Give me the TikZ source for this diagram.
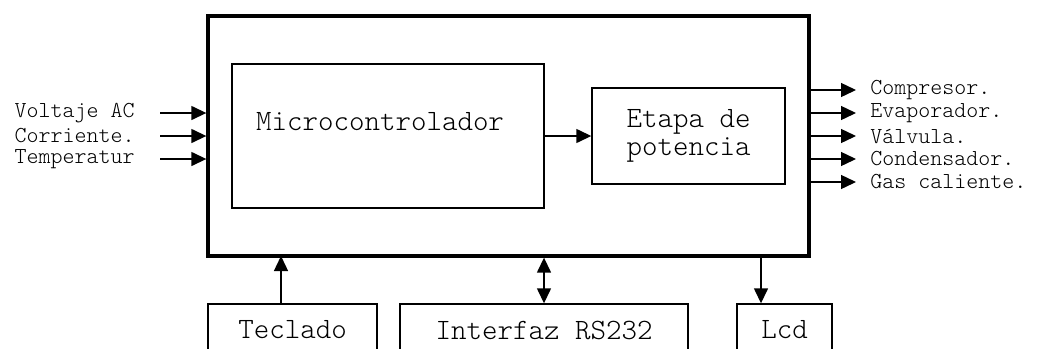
\documentclass[tikz,border=0pt]{standalone}
\usepackage{fontspec}
\usepackage{tikz}
\usetikzlibrary{arrows.meta,calc,positioning}

\newfontfamily\lightmono{Latin Modern Mono Light}
\newcommand{\smalltxt}{\lightmono\fontsize{13}{15}\selectfont}
\newcommand{\bigtxt}{\lightmono\fontsize{16.8}{15.6}\selectfont}

\begin{document}
\begin{tikzpicture}[
 x=0.2mm,y=-0.2mm,
 outer/.style={draw=black,line width=1.9pt,inner sep=0pt,
   minimum width=12.02cm,minimum height=4.8cm},
 block/.style={draw=black,line width=.8pt,inner sep=0pt,
   align=center,font=\bigtxt},
 inlbl/.style={anchor=east,inner xsep=5mm,inner ysep=0pt,font=\smalltxt},
 outlbl/.style={anchor=west,inner xsep=2.8mm,inner ysep=0pt,font=\smalltxt},
 flow/.style={-{Triangle[length=3mm,width=2.8mm]},draw=black,line width=.8pt},
 both/.style={{Triangle[length=3mm,width=2.8mm]}-{Triangle[length=3mm,width=2.8mm]},
   draw=black,line width=.8pt}
]
\useasboundingbox (0,0) rectangle (1039,348);
\clip (0,0) rectangle (1039,348);

% main unit
\node[outer] (sys) at (508.5,136) {};
\node[block,minimum width=6.24cm,minimum height=2.88cm] (micro) at (388,136) {};
\node[font=\bigtxt,inner sep=0pt] (microtxt) at (380,122) {Microcontrolador};
\node[block,minimum width=3.86cm,minimum height=1.92cm] (etapa) at (688.5,136)
 {Etapa de\\potencia};
\draw[flow] (micro.east |- etapa.west) -- (etapa.west);

% inputs
\node[inlbl] (volt) at (160,113) {Voltaje AC};
\node[inlbl] (corr) at (160,136) {Corriente.};
\node[inlbl] (temp) at (160,159) {Temperatur};
\draw[flow] (volt.east) -- (volt.east -| sys.west);
\draw[flow] (corr.east) -- (corr.east -| sys.west);
\draw[flow] (temp.east) -- (temp.east -| sys.west);

% outputs
\node[outlbl] (comp) at (856,90) {Compresor.};
\node[outlbl] (evap) at (856,113) {Evaporador.};
\node[outlbl] (valv) at (856,136) {Válvula.};
\node[outlbl] (cond) at (856,159) {Condensador.};
\node[outlbl] (gas) at (856,182) {Gas caliente.};
\draw[flow] (comp.west -| sys.east) -- (comp.west);
\draw[flow] (evap.west -| sys.east) -- (evap.west);
\draw[flow] (valv.west -| sys.east) -- (valv.west);
\draw[flow] (cond.west -| sys.east) -- (cond.west);
\draw[flow] (gas.west -| sys.east) -- (gas.west);

% peripherals
\node[block,minimum width=3.38cm,minimum height=1.04cm] (tec) at (292.5,330) {Teclado};
\node[block,minimum width=5.76cm,minimum height=1.04cm] (rs) at (544,330) {Interfaz RS232};
\node[block,minimum width=1.9cm,minimum height=1.04cm] (lcd) at (784.5,330) {Lcd};

\coordinate (tecin) at (281,256);
\coordinate (lcdout) at (761,256);
\draw[flow] (tec.north -| tecin) -- (tecin);
\draw[both] (rs.north) -- (rs.north |- sys.south);
\draw[flow] (lcdout) -- (lcd.north -| lcdout);
\end{tikzpicture}
\end{document}
